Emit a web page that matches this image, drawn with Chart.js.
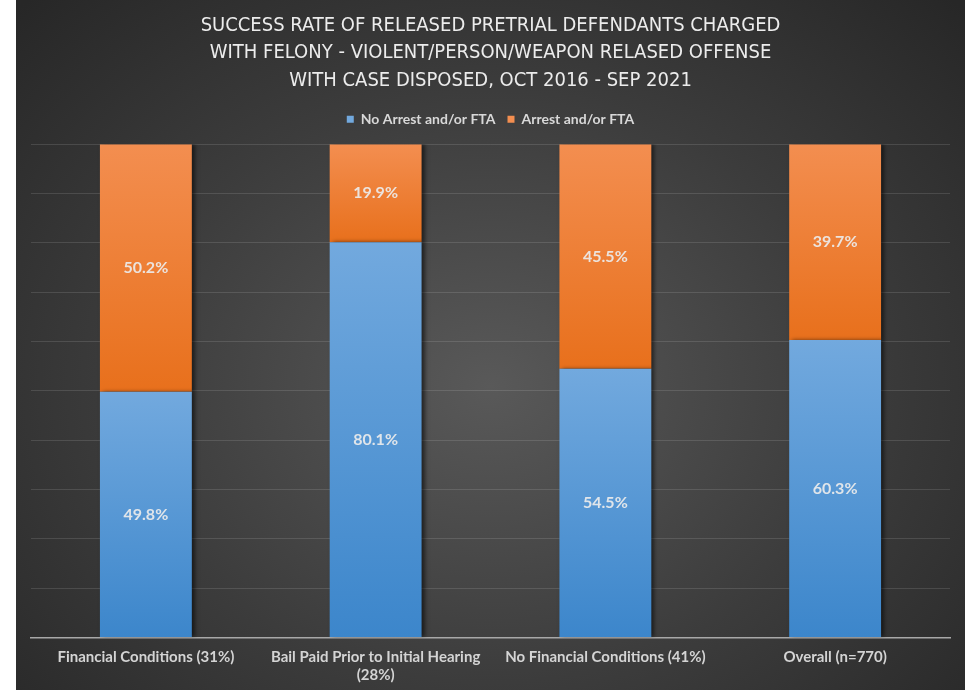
<!DOCTYPE html>
<html>
<head>
<meta charset="utf-8">
<script src="https://cdn.jsdelivr.net/npm/chart.js@4.4.0/dist/chart.umd.min.js"></script>
<style>
  body { margin: 0; background: #fff; }
  #wrap {
    position: absolute; left: 16px; top: 0; width: 949px; height: 690px;
    background: radial-gradient(ellipse 70% 78% at 50% 56%, #595959 0%, #3c3c3c 55%, #272727 100%);
  }
</style>
</head>
<body>
<div id="wrap"><canvas id="chart"></canvas></div>
<script>
const categories = [
  'Financial Conditions (31%)',
  ['Bail Paid Prior to Initial Hearing', '(28%)'],
  'No Financial Conditions (41%)',
  'Overall (n=770)'
];
const noArrest = [49.8, 80.1, 54.5, 60.3];
const arrest = [50.2, 19.9, 45.5, 39.7];
const seriesNames = ['No Arrest and/or FTA', 'Arrest and/or FTA'];

// gradient per segment, lighter at the top
function segFill(light, dark) {
  return function(ctx) {
    const chart = ctx.chart;
    if (!chart.chartArea || ctx.dataIndex === undefined) return dark;
    const y = chart.scales.y;
    const lo = ctx.datasetIndex === 0 ? 0 : noArrest[ctx.dataIndex];
    const hi = ctx.datasetIndex === 0 ? noArrest[ctx.dataIndex] : 100;
    const g = chart.ctx.createLinearGradient(0, y.getPixelForValue(hi), 0, y.getPixelForValue(lo));
    g.addColorStop(0, light);
    g.addColorStop(1, dark);
    return g;
  };
}

// extra room under the legend
const legendGap = {
  id: 'legendGap',
  beforeInit(chart) {
    const fit = chart.legend.fit;
    chart.legend.fit = function() {
      fit.bind(chart.legend)();
      this.height += 8;
    };
  }
};

const barShadow = {
  id: 'barShadow',
  beforeDatasetsDraw(chart) {
    const c = chart.ctx;
    c.save();
    c.shadowColor = 'rgba(0,0,0,0.55)';
    c.shadowOffsetX = 3;
    c.shadowOffsetY = 0;
    c.shadowBlur = 4;
  },
  afterDatasetsDraw(chart) {
    chart.ctx.restore();
  }
};

const valueLabels = {
  id: 'valueLabels',
  afterDatasetsDraw(chart) {
    const c = chart.ctx;
    c.save();
    c.font = 'bold 16px Lato';
    c.fillStyle = 'rgba(236,236,236,0.92)';
    c.textAlign = 'center';
    c.textBaseline = 'middle';
    chart.data.datasets.forEach((ds, di) => {
      chart.getDatasetMeta(di).data.forEach((el, i) => {
        c.fillText(ds.data[i].toFixed(1) + '%', el.x, (el.y + el.base) / 2);
      });
    });
    c.restore();
  }
};

new Chart(document.getElementById('chart'), {
  type: 'bar',
  data: {
    labels: categories,
    datasets: [
      {
        label: seriesNames[0],
        data: noArrest,
        backgroundColor: segFill('#72a9de', '#3c86cb'),
        borderWidth: 0,
        categoryPercentage: 1,
        barPercentage: 0.4
      },
      {
        label: seriesNames[1],
        data: arrest,
        backgroundColor: segFill('#f38e50', '#e8701c'),
        borderWidth: 0,
        categoryPercentage: 1,
        barPercentage: 0.4
      }
    ]
  },
  options: {
    responsive: true,
    maintainAspectRatio: false,
    animation: false,
    layout: { padding: { left: 15, right: 15, top: 10, bottom: 0 } },
    plugins: {
      title: {
        display: true,
        text: [
          'SUCCESS RATE OF RELEASED PRETRIAL DEFENDANTS CHARGED',
          'WITH FELONY - VIOLENT/PERSON/WEAPON RELASED OFFENSE',
          'WITH CASE DISPOSED, OCT 2016 - SEP 2021'
        ],
        color: '#ececec',
        font: { family: 'DejaVu Sans Condensed', size: 20, weight: 'normal', lineHeight: 1.37 },
        padding: { top: 2, bottom: 6 }
      },
      legend: {
        position: 'top',
        labels: {
          color: '#d8d8d8',
          font: { family: 'Lato', size: 14, weight: 'bold' },
          boxWidth: 7,
          boxHeight: 7,
          padding: 12
        }
      },
      tooltip: { enabled: false }
    },
    scales: {
      x: {
        stacked: true,
        grid: { display: false, drawTicks: false },
        border: { color: '#a8a8a8', width: 1.5 },
        ticks: {
          color: '#d4d4d4',
          font: { family: 'Lato', size: 15, weight: 'bold', lineHeight: 1.25 },
          maxRotation: 0,
          padding: 10
        },
        afterFit(scale) { scale.height -= 5; }
      },
      y: {
        stacked: true,
        min: 0,
        max: 100,
        grid: { color: 'rgba(255,255,255,0.12)', drawTicks: false },
        border: { display: false },
        ticks: { display: false, stepSize: 10 }
      }
    }
  },
  plugins: [legendGap, barShadow, valueLabels]
});
</script>
</body>
</html>
